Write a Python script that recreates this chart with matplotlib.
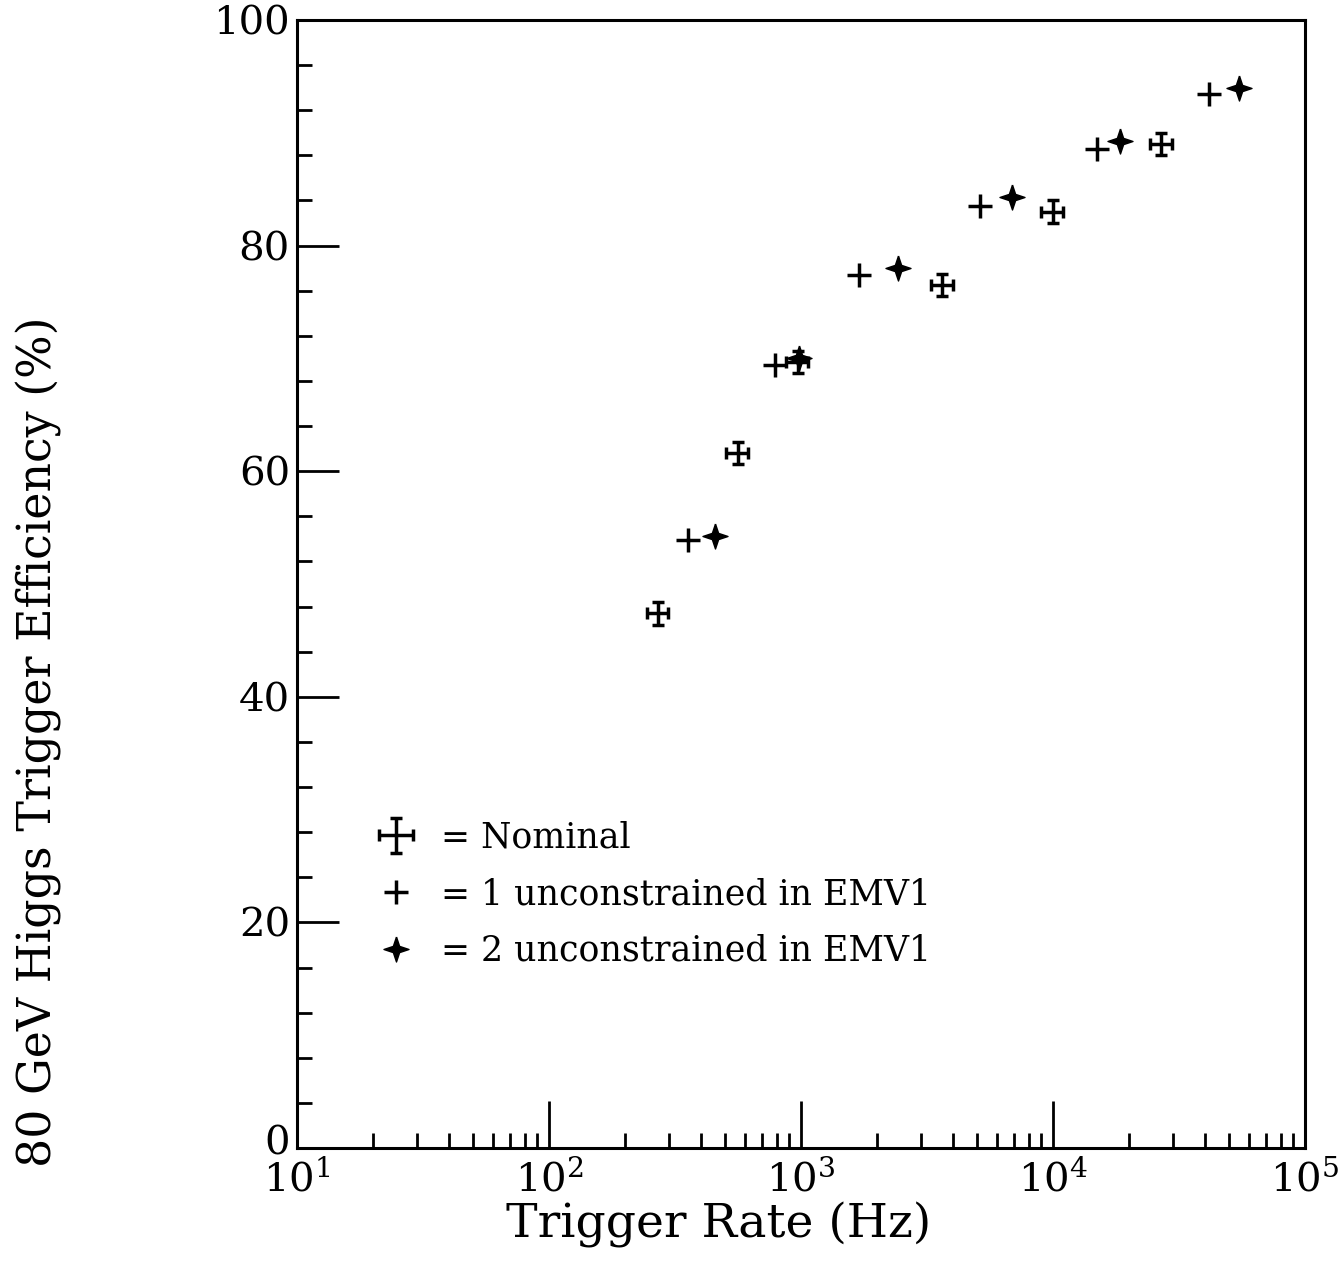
import matplotlib
matplotlib.use('agg')
import matplotlib.pyplot as plt
import matplotlib.transforms as mtransforms
import numpy as np

plt.rcParams['font.family'] = ['DejaVu Serif']
plt.rcParams['mathtext.fontset'] = 'dejavuserif'

# nominal trigger (with errors)
nom_rate = [271, 562, 973, 3630, 10000, 26900]
nom_eff = [47.4, 61.6, 69.7, 76.5, 83.0, 89.0]
nom_rate_err = [0.1, 0.1, 0.1, 0.1, 0.1, 0.1]   # fractional
nom_eff_err = [1.0, 1.0, 1.0, 1.0, 1.0, 1.0]

# 1 unconstrained in EMV1
one_rate = [356, 788, 1700, 5130, 14960, 41600]
one_eff = [53.9, 69.4, 77.4, 83.5, 88.6, 93.4]

# 2 unconstrained in EMV1
two_rate = [456, 985, 2430, 6870, 18450, 54700]
two_eff = [54.3, 70.0, 78.0, 84.3, 89.3, 94.0]

star = [(0, 1), (0.25, 0.25), (1, 0), (0.25, -0.25), (0, -1),
        (-0.25, -0.25), (-1, 0), (-0.25, 0.25), (0, 1)]

fig = plt.figure(figsize=(13.43, 12.66), dpi=100)
ax = fig.add_axes([0.2211, 0.0932, 0.7506, 0.8910])

nom_rate = np.array(nom_rate)
xerr = nom_rate * np.array(nom_rate_err)
h_nom = ax.errorbar(nom_rate, nom_eff, xerr=xerr, yerr=nom_eff_err, fmt='none',
                    ecolor='black', elinewidth=2.5, capsize=4, capthick=2.5)
h_one, = ax.plot(one_rate, one_eff, linestyle='none', marker='+', markersize=17,
                 mew=2.5, color='black')
h_two, = ax.plot(two_rate, two_eff, linestyle='none', marker=star, markersize=18,
                 color='black')

ax.set_xscale('log')
ax.set_xlim(10, 1e5)
ax.set_ylim(0, 100)
ax.set_yticks([0, 20, 40, 60, 80, 100])
ax.set_yticks(np.arange(0, 101, 4), minor=True)

ax.tick_params(axis='both', which='both', direction='in', top=False, right=False,
               labelsize=29, width=2)
ax.tick_params(axis='y', which='major', length=30, pad=5)
ax.tick_params(axis='y', which='minor', length=11)
ax.tick_params(axis='x', which='major', length=34, pad=8)
ax.tick_params(axis='x', which='minor', length=11)
for sp in ax.spines.values():
    sp.set_linewidth(2.2)

# nudge the "0" up a little so it sits just above the 10^1 label
lab0 = ax.get_yticklabels()[0]
lab0.set_transform(lab0.get_transform() +
                   mtransforms.ScaledTranslation(0, 6 / 72, fig.dpi_scale_trans))

ax.set_xlabel('Trigger Rate (Hz)', fontsize=34)
ax.set_ylabel('80 GeV Higgs Trigger Efficiency (%)', fontsize=33)
ax.xaxis.set_label_coords(0.418, -0.048)
ax.yaxis.set_label_coords(-0.233, 0.36)

ax.legend([h_nom, h_one, h_two],
          ['= Nominal', '= 1 unconstrained in EMV1', '= 2 unconstrained in EMV1'],
          loc='upper left', bbox_to_anchor=(0.05, 0.318), frameon=False,
          fontsize=25, handlelength=1.0, handletextpad=0.8, labelspacing=0.65)

plt.savefig('out.png', dpi=100)
